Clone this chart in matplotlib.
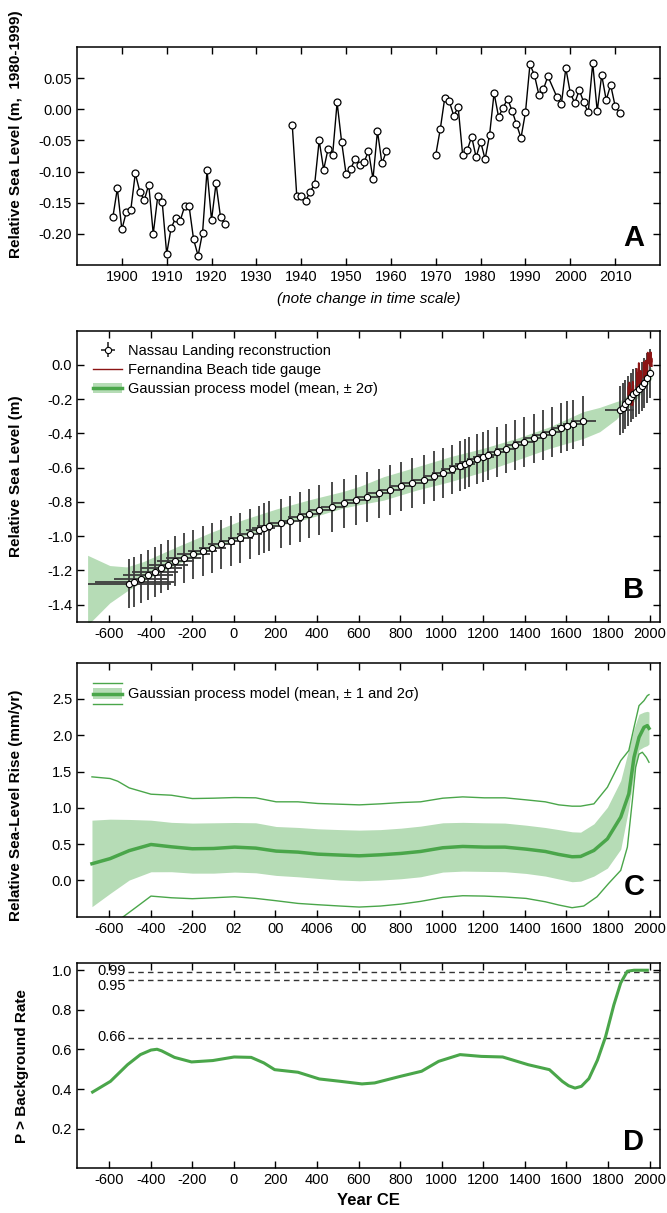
import numpy as np
import matplotlib
matplotlib.use('Agg')
import matplotlib.pyplot as plt
from matplotlib.legend_handler import HandlerBase
from matplotlib.lines import Line2D
from matplotlib.patches import Rectangle, Patch

plt.rcParams['font.family'] = ['Liberation Sans', 'DejaVu Sans']
plt.rcParams['axes.unicode_minus'] = False

# ---- panel A: Fernandina Beach tide gauge (annual) ----
tg_year = list(range(1898, 1924)) + list(range(1938, 1960)) + list(range(1970, 1996)) + list(range(1997, 2012))
tg_level = [-0.173, -0.127, -0.193, -0.165, -0.161, -0.103, -0.132, -0.146, -0.121, -0.200,
            -0.140, -0.149, -0.232, -0.190, -0.175, -0.179, -0.156, -0.156, -0.209, -0.235,
            -0.198, -0.098, -0.178, -0.119, -0.173, -0.184,
            -0.025, -0.139, -0.139, -0.147, -0.132, -0.120, -0.050, -0.097, -0.063, -0.073,
            0.011, -0.052, -0.104, -0.096, -0.080, -0.089, -0.085, -0.067, -0.112, -0.035,
            -0.087, -0.067,
            -0.073, -0.032, 0.018, 0.013, -0.010, 0.003, -0.074, -0.066, -0.044, -0.077,
            -0.052, -0.080, -0.041, 0.026, -0.012, 0.002, 0.017, -0.002, -0.024, -0.046,
            -0.005, 0.072, 0.055, 0.023, 0.032, 0.053,
            0.020, 0.008, 0.066, 0.026, 0.010, 0.031, 0.011, -0.005, 0.074, -0.003,
            0.055, 0.015, 0.039, 0.005, -0.006]

# ---- panel B: Nassau Landing reconstruction ----
nl_year = [-503, -480, -446, -413, -379, -349, -315, -282, -242, -195,
           -151, -105, -60, -13, 31, 76, 120, 143, 167, 225,
           271, 316, 362, 410, 473, 532, 587, 640, 699, 752,
           805, 859, 915, 965, 1008, 1050, 1088, 1112, 1131, 1170,
           1200, 1224, 1267, 1307, 1352, 1395, 1445, 1486, 1530, 1574,
           1603, 1632, 1680, 1857, 1870, 1883, 1896, 1909, 1922, 1935,
           1948, 1961, 1974, 1987, 2000]
nl_rsl = [-1.277, -1.267, -1.248, -1.228, -1.209, -1.189, -1.170, -1.146, -1.127, -1.107,
          -1.086, -1.068, -1.049, -1.029, -1.010, -0.987, -0.967, -0.951, -0.940, -0.926,
          -0.909, -0.889, -0.868, -0.848, -0.830, -0.809, -0.790, -0.770, -0.751, -0.729,
          -0.710, -0.690, -0.670, -0.649, -0.630, -0.610, -0.591, -0.577, -0.567, -0.550,
          -0.536, -0.528, -0.509, -0.489, -0.468, -0.450, -0.429, -0.409, -0.390, -0.370,
          -0.357, -0.347, -0.328, -0.266, -0.251, -0.231, -0.212, -0.190, -0.170, -0.160,
          -0.140, -0.125, -0.105, -0.075, -0.050]
nl_age_err = [200, 190, 130, 120, 110, 100, 95, 90, 85, 80,
              70, 65, 65, 60, 60, 60, 60, 55, 55, 55,
              55, 55, 55, 55, 55, 55, 55, 55, 55, 55,
              55, 55, 55, 55, 55, 55, 55, 50, 50, 50,
              50, 50, 50, 50, 50, 50, 50, 50, 50, 50,
              50, 50, 60, 70, 10, 10, 10, 10, 10, 10,
              10, 10, 10, 10, 10]
nl_rsl_err = 0.145

# GP model, 2 sigma envelope for relative sea level
gp_year = [-704, -597, -516, -436, -276, -116, 45, 205, 365, 525, 605, 720, 880, 1040,
           1200, 1360, 1520, 1680, 1760, 1840, 1864, 1900, 1950, 2000, 2010]
gp_upper = [-1.112, -1.172, -1.180, -1.149, -1.063, -0.981, -0.904, -0.841, -0.787, -0.739,
            -0.709, -0.653, -0.595, -0.536, -0.487, -0.429, -0.361, -0.273, -0.248, -0.214,
            -0.205, -0.170, -0.110, -0.030, -0.010]
gp_lower = [-1.520, -1.390, -1.322, -1.263, -1.166, -1.079, -1.001, -0.943, -0.894, -0.836,
            -0.816, -0.790, -0.731, -0.682, -0.624, -0.556, -0.487, -0.430, -0.390, -0.317,
            -0.283, -0.250, -0.180, -0.100, -0.080]

# ---- panel C: rate of rise ----
rate_year = [-683, -596, -504, -399, -301, -200, -98, 3, 105, 203, 308, 404, 511, 603, 705,
             804, 898, 1005, 1101, 1205, 1304, 1406, 1498, 1563, 1627, 1668, 1732, 1797,
             1861, 1900, 1925, 1949, 1973, 1989, 1997]
rate_mean = [0.23, 0.30, 0.41, 0.495, 0.463, 0.436, 0.44, 0.459, 0.445, 0.404, 0.39, 0.362,
             0.349, 0.339, 0.353, 0.372, 0.399, 0.45, 0.468, 0.459, 0.459, 0.431, 0.399, 0.358,
             0.326, 0.33, 0.413, 0.573, 0.872, 1.193, 1.697, 1.972, 2.11, 2.133, 2.096]
rate_up1 = [0.83, 0.844, 0.84, 0.83, 0.80, 0.79, 0.794, 0.798, 0.794, 0.743, 0.73, 0.711,
            0.70, 0.693, 0.70, 0.72, 0.748, 0.794, 0.80, 0.794, 0.79, 0.761, 0.729, 0.70,
            0.67, 0.665, 0.78, 1.009, 1.376, 1.81, 2.09, 2.29, 2.32, 2.33, 2.32]
rate_lo1 = [-0.362, -0.18, 0.005, 0.119, 0.12, 0.10, 0.10, 0.115, 0.105, 0.069, 0.05, 0.028,
            0.005, -0.005, 0.005, 0.023, 0.05, 0.115, 0.128, 0.124, 0.12, 0.096, 0.06, 0.02,
            -0.018, -0.01, 0.06, 0.17, 0.43, 1.0, 1.468, 1.80, 1.84, 1.858, 1.88]
up2_year = [-683, -596, -559, -504, -399, -301, -200, -98, 3, 105, 203, 308, 404, 511, 603,
            705, 804, 898, 1005, 1101, 1205, 1304, 1406, 1498, 1563, 1627, 1668, 1732, 1797,
            1861, 1900, 1925, 1949, 1973, 1989, 1997]
rate_up2 = [1.427, 1.404, 1.367, 1.275, 1.188, 1.174, 1.128, 1.133, 1.142, 1.138, 1.083, 1.083,
            1.06, 1.05, 1.041, 1.055, 1.073, 1.083, 1.133, 1.151, 1.138, 1.138, 1.11, 1.083,
            1.041, 1.023, 1.023, 1.055, 1.284, 1.65, 1.79, 2.11, 2.408, 2.477, 2.546, 2.56]
lo2_year = [-683, -600, -532, -467, -399, -301, -200, -98, 3, 105, 203, 308, 404, 511, 603,
            705, 804, 898, 1005, 1101, 1205, 1304, 1406, 1498, 1563, 1627, 1683, 1747, 1803,
            1861, 1893, 1917, 1933, 1949, 1965, 1984, 1997]
rate_lo2 = [-0.85, -0.65, -0.5, -0.362, -0.216, -0.239, -0.252, -0.239, -0.225, -0.248, -0.28,
            -0.317, -0.335, -0.353, -0.367, -0.353, -0.326, -0.289, -0.234, -0.211, -0.216,
            -0.229, -0.248, -0.294, -0.339, -0.376, -0.353, -0.225, -0.041, 0.138, 0.459,
            1.10, 1.56, 1.74, 1.766, 1.697, 1.628]

# ---- panel D: probability rate exceeds background ----
prob_year = [-680, -594, -512, -450, -399, -370, -348, -286, -204, -102, 1, 83, 144, 196, 308,
             411, 513, 616, 677, 800, 903, 985, 1088, 1190, 1293, 1416, 1518, 1580, 1610,
             1641, 1672, 1708, 1749, 1788, 1828, 1861, 1893, 1925, 1989]
prob = [0.385, 0.439, 0.523, 0.574, 0.597, 0.601, 0.593, 0.56, 0.537, 0.544, 0.562, 0.56,
        0.532, 0.498, 0.485, 0.451, 0.439, 0.426, 0.431, 0.464, 0.49, 0.54, 0.574, 0.565,
        0.562, 0.523, 0.498, 0.439, 0.417, 0.405, 0.414, 0.453, 0.546, 0.664, 0.825, 0.936,
        0.995, 1.0, 1.0]
thresholds = [0.99, 0.95, 0.66]
threshold_label_y = [0.997, 0.922, 0.661]

ce_ticks = list(range(-600, 2001, 200))
c_tick_labels = ['-600', '-400', '-200', '02', '00', '4006', '00', '800', '1000', '1200',
                 '1400', '1600', '1800', '2000']

GREEN = '#4aa64a'
BAND = '#b6dcb6'
RED = '#8b1414'
XLIM = (-755, 2050)


def broken(years, vals, gap=5):
    # put NaNs where the record has a gap so the line is not joined
    x = np.asarray(years, float)
    y = np.asarray(vals, float)
    cut = np.where(np.diff(x) > gap)[0] + 1
    return np.insert(x, cut, np.nan), np.insert(y, cut, np.nan)


def fmt1(vals):
    return ['%.1f' % (round(v, 1) + 0.0) for v in vals]


def style(ax):
    ax.tick_params(direction='in', top=True, right=True, length=5, width=1, labelsize=10.5)
    for s in ax.spines.values():
        s.set_linewidth(1.1)


class BandHandler(HandlerBase):
    def create_artists(self, legend, orig_handle, xdescent, ydescent, width, height, fontsize, trans):
        x0, y0 = -xdescent, -ydescent
        rect = Rectangle((x0, y0 + 0.22 * height), width, 0.56 * height, fc=BAND, ec='none', transform=trans)
        top = Line2D([x0, x0 + width], [y0 + height] * 2, color=GREEN, lw=1, transform=trans)
        bot = Line2D([x0, x0 + width], [y0] * 2, color=GREEN, lw=1, transform=trans)
        mid = Line2D([x0, x0 + width], [y0 + height / 2] * 2, color=GREEN, lw=2.5, transform=trans)
        return [rect, top, bot, mid]


fig = plt.figure(figsize=(6.67, 12.13), dpi=100)
W = 583 / 667
axA = fig.add_axes([77 / 667, 1 - 265 / 1213, W, 218 / 1213])
axB = fig.add_axes([77 / 667, 1 - 621.7 / 1213, W, 291 / 1213])
axC = fig.add_axes([77 / 667, 1 - 916.7 / 1213, W, 254 / 1213])
axD = fig.add_axes([77 / 667, 1 - 1168.3 / 1213, W, 205 / 1213])

# A
x, y = broken(tg_year, tg_level)
axA.plot(x, y, color='black', lw=1, marker='o', ms=5, mfc='white', mec='black', mew=0.9)
axA.set_xlim(1890, 2020)
axA.set_ylim(-0.25, 0.10)
axA.set_xticks(range(1900, 2011, 10))
axA.set_yticks([0.05, 0.0, -0.05, -0.10, -0.15, -0.20])
axA.set_yticklabels(['0.05', '0.00', '-0.05', '-0.10', '-0.15', '-0.20'])
axA.set_xlabel('(note change in time scale)', fontstyle='italic', fontsize=11, labelpad=6)
axA.set_ylabel('Relative Sea Level (m,  1980-1999)', fontweight='bold', fontsize=11)
axA.yaxis.set_label_coords(-0.093, 0.6)
style(axA)

# B
axB.fill_between(gp_year, gp_lower, gp_upper, color=BAND, lw=0, zorder=1)
eb = axB.errorbar(nl_year, nl_rsl, xerr=nl_age_err, yerr=nl_rsl_err, fmt='o', ms=4.5,
                  mfc='white', mec='black', mew=0.8, ecolor='#3c3c3c', elinewidth=1.3,
                  capsize=0, color='black', zorder=3)
eb[0].set_zorder(5)
x, y = broken(tg_year, tg_level)
axB.plot(x, y, color=RED, lw=1.3, zorder=4)
h_tg = Line2D([], [], color=RED, lw=1)
h_gp = (Patch(fc=BAND, ec='none'), Line2D([], [], color=GREEN, lw=2.5))
axB.legend([eb, h_tg, h_gp],
           ['Nassau Landing reconstruction', 'Fernandina Beach tide gauge',
            'Gaussian process model (mean, \u00b1 2\u03c3)'],
           loc='upper left', bbox_to_anchor=(0.028, 0.955), frameon=False, borderpad=0,
           borderaxespad=0, fontsize=10.5, handlelength=2.0, handletextpad=0.4,
           labelspacing=0.35)
axB.set_xlim(*XLIM)
axB.set_ylim(-1.5, 0.2)
axB.set_xticks(ce_ticks)
b_yt = np.arange(-1.4, 0.01, 0.2)
axB.set_yticks(b_yt)
axB.set_yticklabels(fmt1(b_yt))
axB.set_ylabel('Relative Sea Level (m)', fontweight='bold', fontsize=11)
axB.yaxis.set_label_coords(-0.093, 0.5)
style(axB)

# C
axC.fill_between(rate_year, rate_lo1, rate_up1, color=BAND, lw=0)
axC.plot(up2_year, rate_up2, color=GREEN, lw=1)
axC.plot(lo2_year, rate_lo2, color=GREEN, lw=1)
axC.plot(rate_year, rate_mean, color=GREEN, lw=2.5)
axC.legend([object()], ['Gaussian process model (mean, \u00b1 1 and 2\u03c3)'],
           handler_map={object: BandHandler()}, loc='upper left',
           bbox_to_anchor=(0.028, 0.92), frameon=False, borderpad=0, borderaxespad=0,
           fontsize=10.5, handlelength=2.0, handleheight=1.85, handletextpad=0.4)
axC.set_xlim(*XLIM)
axC.set_ylim(-0.5, 3.0)
axC.set_xticks(ce_ticks)
axC.set_xticklabels(c_tick_labels)
c_yt = np.arange(0, 2.51, 0.5)
axC.set_yticks(c_yt)
axC.set_yticklabels(fmt1(c_yt))
axC.set_ylabel('Relative Sea-Level Rise (mm/yr)', fontweight='bold', fontsize=11)
axC.yaxis.set_label_coords(-0.093, 0.44)
style(axC)

# D
for th, ty in zip(thresholds, threshold_label_y):
    axD.axhline(th, xmin=(-510 - XLIM[0]) / (XLIM[1] - XLIM[0]), xmax=1, color='#333333',
                lw=1, ls=(0, (4, 3)))
    axD.text(-518, ty, '%.2f' % th, ha='right', va='center', fontsize=10.5)
axD.plot(prob_year, prob, color=GREEN, lw=2.2)
axD.set_xlim(*XLIM)
axD.set_ylim(0, 1.035)
axD.set_xticks(ce_ticks)
axD.set_yticks([0.2, 0.4, 0.6, 0.8, 1.0])
axD.set_yticklabels(['0.2', '0.4', '0.6', '0.8', '1.0'])
axD.set_xlabel('Year CE', fontweight='bold', fontsize=12, labelpad=4)
axD.set_ylabel('P > Background Rate', fontweight='bold', fontsize=11)
axD.yaxis.set_label_coords(-0.083, 0.5)
style(axD)

for ax, lab in zip([axA, axB, axC, axD], 'ABCD'):
    ax.text(0.955, 0.06, lab, transform=ax.transAxes, ha='center', va='bottom',
            fontsize=21, fontweight='bold')

fig.savefig('out.png', dpi=100)
